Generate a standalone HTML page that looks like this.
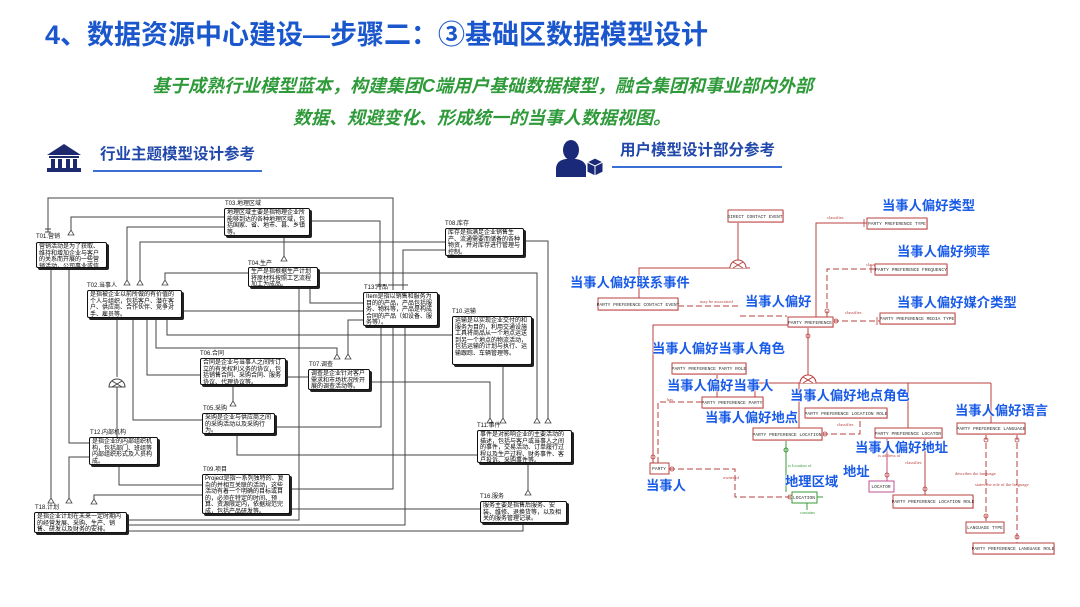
<!DOCTYPE html>
<html><head><meta charset="utf-8">
<style>
*{margin:0;padding:0;box-sizing:border-box}
body{width:1080px;height:607px;background:#fff;position:relative;overflow:hidden;font-family:"Liberation Sans","Noto Sans CJK SC",sans-serif}
.abs{position:absolute;white-space:nowrap}
.title{left:45px;top:19px;font-size:27px;line-height:32px;font-weight:bold;color:#1a56cc}
.sub{font-size:18px;line-height:20px;font-weight:bold;font-style:italic;color:#2f9a3a}
.hdr{font-size:15.5px;line-height:18px;font-weight:bold;color:#2148aa}
.bx{position:absolute;background:#fff;border:1px solid #111;box-shadow:2px 2px 0 #222;border-radius:2px;font-size:6px;line-height:6.6px;color:#000;padding:1px 2px;overflow:hidden;white-space:normal;word-break:break-all;font-family:"Liberation Sans","Noto Sans CJK SC",sans-serif}
.lb{position:absolute;font-size:6px;line-height:6px;color:#111;white-space:nowrap}
.bl{position:absolute;font-size:13.3px;line-height:14px;font-weight:bold;color:#1a5ce8;white-space:nowrap;text-shadow:0 0 2px #fff,0 0 2px #fff}
</style></head><body>

<div class="abs title">4、数据资源中心建设—步骤二：③基础区数据模型设计</div>
<div class="abs sub" style="left:152px;top:76px">基于成熟行业模型蓝本，构建集团C端用户基础数据模型，融合集团和事业部内外部</div>
<div class="abs sub" style="left:293px;top:108px">数据、规避变化、形成统一的当事人数据视图。</div>

<div class="abs hdr" style="left:100px;top:146px">行业主题模型设计参考</div>
<div class="abs hdr" style="left:620px;top:142px">用户模型设计部分参考</div>

<svg class="abs" style="left:0;top:0" width="1080" height="607" viewBox="0 0 1080 607">
<line x1="93" y1="171" x2="262" y2="171" stroke="#3a6fd8" stroke-width="2"/>
<line x1="612" y1="167" x2="782" y2="167" stroke="#3a6fd8" stroke-width="2"/>
<g fill="#1d2b6e">
<polygon points="64,144 81,155 47,155"/>
<rect x="49" y="156" width="30" height="2"/>
<rect x="51" y="159" width="4" height="9"/>
<rect x="58" y="159" width="4" height="9"/>
<rect x="66" y="159" width="4" height="9"/>
<rect x="73" y="159" width="4" height="9"/>
<rect x="47" y="168" width="34" height="4"/>
</g>
<g fill="#1a2a78">
<ellipse cx="571" cy="150" rx="8" ry="10"/>
<path d="M556,177 L556,168 Q557,160 566,159 L576,159 Q584,160 586,166 L586,177 Z"/>
<polygon points="595,158 603,162 603,172 595,176 587,172 587,162" fill="#1a2a78" stroke="#fff" stroke-width="1"/>
<polyline points="587,162 595,166 603,162" fill="none" stroke="#fff" stroke-width="1"/>
<line x1="595" y1="166" x2="595" y2="176" stroke="#fff" stroke-width="1"/>
</g>

<g fill="none" stroke="#444" stroke-width="1">
<polyline points="48,232 48,198 393,198 393,290"/>
<polyline points="224,217 71,217 71,234"/>
<polyline points="224,227 127,227 127,284"/>
<polyline points="140,284 140,242 445,242"/>
<polyline points="308,221 380,221 380,290"/>
<polyline points="445,250 403,250 403,290"/>
<polyline points="524,241 548,241 548,422"/>
<polyline points="318,273 537,273 537,422"/>
<polyline points="248,273 165,273 165,284"/>
<polyline points="310,287 310,303 363,303"/>
<polyline points="182,311 363,311"/>
<polyline points="348,358 348,320 363,320"/>
<polyline points="156,318 156,348 337,348 337,358"/>
<polyline points="167,318 167,335 452,335"/>
<polyline points="284,236 284,260"/>
<polyline points="51,268 51,502"/>
<polyline points="69,268 69,443 89,443"/>
<polyline points="117,318 117,377"/>
<polyline points="117,386 117,437"/>
<polyline points="133,318 133,420 202,420"/>
<polyline points="147,318 147,375 200,375"/>
<polyline points="299,287 299,520 127,520"/>
<polyline points="286,377 308,377"/>
<polyline points="233,385 233,405"/>
<polyline points="275,427 381,427 381,326"/>
<polyline points="237,434 237,455 477,455"/>
<polyline points="119,465 119,485 202,485"/>
<polyline points="202,495 94,495 94,503"/>
<polyline points="290,489 393,489 393,326"/>
<polyline points="290,509 480,509"/>
<polyline points="127,525 405,525 405,326"/>
<polyline points="370,382 490,382 490,422"/>
<polyline points="503,365 503,422"/>
<polyline points="528,463 528,494"/>
<polyline points="523,523 523,531 127,531"/>
<polyline points="89,457 69,457 69,502"/>
<path d="M109,387 A8,8 0 0 1 125,387 Z" fill="#fff"/>
<path d="M112,381 L122,387 M122,381 L112,387"/>
<path d="M45,229 L51,229 M45,232 L51,232 M388,285 L398,285 M398,285 L408,285 M375,285 L385,285"/>
</g>
<g fill="#fff" stroke="#444" stroke-width="0.8">
<polygon points="71,230 68,235 74,235"/>
<polygon points="127,280 124,285 130,285"/>
<polygon points="140,280 137,285 143,285"/>
<polygon points="165,280 162,285 168,285"/>
<polygon points="284,256 281,261 287,261"/>
<polygon points="548,418 545,423 551,423"/>
<polygon points="537,418 534,423 540,423"/>
<polygon points="490,418 487,423 493,423"/>
<polygon points="503,418 500,423 506,423"/>
<polygon points="528,490 525,495 531,495"/>
<polygon points="51,498 48,503 54,503"/>
<polygon points="69,498 66,503 72,503"/>
<polygon points="94,499 91,504 97,504"/>
<polygon points="233,401 230,406 236,406"/>
<polygon points="337,354 334,359 340,359"/>
<polygon points="348,354 345,359 351,359"/>
</g>

<g fill="none" stroke="#b8403f" stroke-width="1">
<polyline points="738,222 738,261"/>
<polyline points="639,298 639,268 750,268"/>
<path d="M730,268 A8,8 0 0 1 746,268" fill="#fff"/>
<path d="M733,262 L743,268 M743,262 L733,268"/>
<polyline points="788,325 653,325 653,463"/>
<polyline points="808,327 808,376"/>
<polyline points="755,383 991,383"/>
<path d="M800,383 A8,8 0 0 1 816,383" fill="#fff"/>
<path d="M803,377 L813,383 M813,377 L803,383"/>
<polyline points="755,383 755,397"/>
<polyline points="799,383 799,428"/>
<polyline points="908,383 908,428"/>
<polyline points="991,383 991,423"/>
<polyline points="717,374 717,397"/>
<polyline points="816,317 816,223 867,223"/>
<polyline points="887,438 887,481" stroke="#c05070"/>
<polyline points="925,438 925,495"/>
</g>
<g fill="none" stroke="#b8403f" stroke-width="1" stroke-dasharray="6,3">
<polyline points="678,306 740,306"/>
<polyline points="740,316 787,316"/>
<polyline points="702,402 658,402 658,463"/>
<polyline points="669,469 735,469 735,497 792,497"/>
<polyline points="822,434 860,434 860,418"/>
<polyline points="986,434 986,522"/>
<polyline points="1017,434 1017,543"/>
<polyline points="827,317 827,269 875,269"/>
<polyline points="833,321 880,321"/>
</g>
<g fill="none" stroke="#3a9a3a" stroke-width="1">
<polyline points="786,440 786,492"/>
<polyline points="807,503 807,510"/>
<polyline points="817,497 823,497"/>
<circle cx="786" cy="450" r="2"/>
</g>
<g fill="none" stroke="#b8403f" stroke-width="0.8">
<circle cx="653" cy="457" r="2"/><circle cx="808" cy="336" r="2"/><circle cx="827" cy="311" r="2"/>
<circle cx="705" cy="402" r="2"/><circle cx="672" cy="469" r="2"/><circle cx="790" cy="497" r="2"/>
<circle cx="825" cy="434" r="2"/><circle cx="986" cy="440" r="2"/><circle cx="1017" cy="440" r="2"/>
<circle cx="986" cy="516" r="2"/><circle cx="1017" cy="537" r="2"/><circle cx="925" cy="489" r="2"/>
<circle cx="887" cy="475" r="2"/><circle cx="836" cy="321" r="2"/>
<path d="M864,219 L864,227 M871,265 L871,273 M877,317 L877,325 M790,322 L790,328"/>
</g>
<g font-family="Liberation Serif, serif" font-size="4.5" fill="#b8403f">
<text x="700" y="303">may be associated</text>
<text x="827" y="219">classifies</text>
<text x="866" y="266">classi</text>
<text x="845" y="314">classifies</text>
<text x="667" y="401">has</text>
<text x="723" y="479">owner of</text>
<text x="837" y="426">classifies</text>
<text x="878" y="457">is address of</text>
<text x="905" y="464">classifies</text>
<text x="955" y="475">describes the language</text>
<text x="975" y="486">states the role of the language</text>
</g>
<g font-family="Liberation Serif, serif" font-size="4.5" fill="#3a9a3a">
<text x="788" y="467">is location of</text>
<text x="800" y="514">contains</text>
</g>
<g font-family="Liberation Mono, monospace" font-size="4.6" fill="#333" text-anchor="middle">
<g stroke="#b8403f" stroke-width="1">
<rect x="729" y="211" width="55" height="12" fill="#f3d8d8" stroke="none"/>
<rect x="728" y="210" width="55" height="12" fill="#fff"/>
<rect x="599" y="299" width="80" height="12" fill="#f3d8d8" stroke="none"/>
<rect x="598" y="298" width="80" height="12" fill="#fff"/>
<rect x="789" y="318" width="45" height="10" fill="#f3d8d8" stroke="none"/>
<rect x="788" y="317" width="45" height="10" fill="#fff"/>
<rect x="868" y="219" width="60" height="11" fill="#f3d8d8" stroke="none"/>
<rect x="867" y="218" width="60" height="11" fill="#fff"/>
<rect x="876" y="265" width="72" height="11" fill="#f3d8d8" stroke="none"/>
<rect x="875" y="264" width="72" height="11" fill="#fff"/>
<rect x="881" y="314" width="75" height="11" fill="#f3d8d8" stroke="none"/>
<rect x="880" y="313" width="75" height="11" fill="#fff"/>
<rect x="673" y="364" width="74" height="11" fill="#f3d8d8" stroke="none"/>
<rect x="672" y="363" width="74" height="11" fill="#fff"/>
<rect x="703" y="398" width="61" height="11" fill="#f3d8d8" stroke="none"/>
<rect x="702" y="397" width="61" height="11" fill="#fff"/>
<rect x="754" y="429" width="69" height="12" fill="#f3d8d8" stroke="none"/>
<rect x="753" y="428" width="69" height="12" fill="#fff"/>
<rect x="650" y="463" width="19" height="11" fill="#fff"/>
<rect x="806" y="409" width="82" height="10" fill="#f3d8d8" stroke="none"/>
<rect x="805" y="408" width="82" height="10" fill="#fff"/>
<rect x="876" y="429" width="67" height="10" fill="#f3d8d8" stroke="none"/>
<rect x="875" y="428" width="67" height="10" fill="#fff"/>
<rect x="869" y="481" width="25" height="11" fill="#fff" stroke="#c05090"/>
<rect x="894" y="496" width="80" height="13" fill="#f3d8d8" stroke="none"/>
<rect x="893" y="495" width="80" height="13" fill="#fff"/>
<rect x="958" y="424" width="68" height="11" fill="#f3d8d8" stroke="none"/>
<rect x="957" y="423" width="68" height="11" fill="#fff"/>
<rect x="966" y="522" width="38" height="11" fill="#fff"/>
<rect x="974" y="544" width="81" height="11" fill="#f3d8d8" stroke="none"/>
<rect x="973" y="543" width="81" height="11" fill="#fff"/>
<rect x="792" y="492" width="25" height="11" fill="#fff" stroke="#3a9a3a"/>
</g>
<text x="755" y="218">DIRECT CONTACT EVENT</text>
<text x="638" y="306">PARTY PREFERENCE CONTACT EVENT</text>
<text x="810" y="324">PARTY PREFERENCE</text>
<text x="897" y="225">PARTY PREFERENCE TYPE</text>
<text x="911" y="271">PARTY PREFERENCE FREQUENCY</text>
<text x="917" y="320">PARTY PREFERENCE MEDIA TYPE</text>
<text x="709" y="370">PARTY PREFERENCE PARTY ROLE</text>
<text x="732" y="404">PARTY PREFERENCE PARTY</text>
<text x="787" y="436">PARTY PREFERENCE LOCATION</text>
<text x="659" y="470">PARTY</text>
<text x="846" y="415">PARTY PREFERENCE LOCATION ROLE</text>
<text x="908" y="435">PARTY PREFERENCE LOCATOR</text>
<text x="881" y="488">LOCATOR</text>
<text x="933" y="503">PARTY PREFERENCE LOCATION ROLE</text>
<text x="991" y="430">PARTY PREFERENCE LANGUAGE</text>
<text x="985" y="529">LANGUAGE TYPE</text>
<text x="1013" y="550">PARTY PREFERENCE LANGUAGE ROLE</text>
<text x="804" y="499">LOCATION</text>
</g>
</svg>

<div class="lb" style="left:36px;top:234px">T01.营销</div>
<div class="bx" style="left:36px;top:242px;width:71px;height:26px">营销活动是为了获取、维持和增加企业与客户的关系而开展的一些营销活动，公司事业或信息宣传。</div>
<div class="lb" style="left:225px;top:201px">T03.地理区域</div>
<div class="bx" style="left:224px;top:208px;width:86px;height:28px">地理区域主要是指物理企业所能够到达的各种地理区域，包括国家、省、地市、县、乡镇等。</div>
<div class="lb" style="left:87px;top:283px">T02.当事人</div>
<div class="bx" style="left:87px;top:290px;width:95px;height:28px">是指被企业以前所做的有价值的个人与组织，包括客户、潜在客户、供应商、合作伙伴、竞争对手、雇员等。</div>
<div class="lb" style="left:248px;top:261px">T04.生产</div>
<div class="bx" style="left:248px;top:267px;width:70px;height:20px">生产是指根据生产计划将原材料按照工艺流程加工为成品。</div>
<div class="lb" style="left:445px;top:221px">T08.库存</div>
<div class="bx" style="left:445px;top:228px;width:79px;height:28px">库存是指满足企业销售生产、流通需要而储备的各种物资，并对库存进行管理与控制。</div>
<div class="lb" style="left:364px;top:285px">T13.产品</div>
<div class="bx" style="left:363px;top:292px;width:75px;height:34px">Item是指以销售和服务为目的的产品，产品包括服务、物料等，产品是构成合同的产品（如设备、服务等）。</div>
<div class="lb" style="left:452px;top:309px">T10.运输</div>
<div class="bx" style="left:452px;top:316px;width:80px;height:49px">运输是以实现企业交付的和服务为目的，利用交通设施工具将商品从一个地点运送到另一个地点的物流活动，包括运输的计划与执行、运输跟踪、车辆管理等。</div>
<div class="lb" style="left:200px;top:351px">T06.合同</div>
<div class="bx" style="left:200px;top:358px;width:86px;height:27px">合同是企业与当事人之间所订立的有关权利义务的协议，包括销售合同、采购合同、服务协议、代理协议等。</div>
<div class="lb" style="left:309px;top:362px">T07.调查</div>
<div class="bx" style="left:308px;top:369px;width:62px;height:21px">调查是企业针对客户需求和市场状况所开展的调查活动等。</div>
<div class="lb" style="left:203px;top:406px">T05.采购</div>
<div class="bx" style="left:202px;top:413px;width:73px;height:21px">采购是企业与供应商之间的采购活动以及采购行为。</div>
<div class="lb" style="left:90px;top:430px">T12.内部机构</div>
<div class="bx" style="left:89px;top:437px;width:69px;height:28px">是指企业的内部组织机构，包括部门、班组等内部组织形式及人员构成。</div>
<div class="lb" style="left:203px;top:467px">T09.项目</div>
<div class="bx" style="left:202px;top:474px;width:88px;height:40px">Project是指一系列独特的、复杂的并相互关联的活动，这些活动有着一个明确的目标或目的，必须在特定的时间、预算、资源限定内，依据规范完成，包括产品研发等。</div>
<div class="lb" style="left:35px;top:505px">T18.计划</div>
<div class="bx" style="left:34px;top:512px;width:93px;height:21px">是指企业计划在未来一定时期内的经营发展、采购、生产、销售、研发以及财务的安排。</div>
<div class="lb" style="left:477px;top:423px">T11.事件</div>
<div class="bx" style="left:477px;top:430px;width:95px;height:33px">事件是对影响企业的主要活动的描述，包括与客户或当事人之间的事件，交易活动、订单履行过程以及生产过程、财务事件、客户投诉、采购事件等。</div>
<div class="lb" style="left:480px;top:494px">T16.服务</div>
<div class="bx" style="left:480px;top:501px;width:87px;height:22px">服务主要是指售后服务、安装、维修、退换货等，以及相关的服务管理记录。</div>

<div class="bl" style="left:882px;top:199px">当事人偏好类型</div>
<div class="bl" style="left:897px;top:245px">当事人偏好频率</div>
<div class="bl" style="left:570px;top:276px">当事人偏好联系事件</div>
<div class="bl" style="left:745px;top:295px">当事人偏好</div>
<div class="bl" style="left:897px;top:296px">当事人偏好媒介类型</div>
<div class="bl" style="left:652px;top:342px">当事人偏好当事人角色</div>
<div class="bl" style="left:667px;top:379px">当事人偏好当事人</div>
<div class="bl" style="left:790px;top:389px">当事人偏好地点角色</div>
<div class="bl" style="left:955px;top:404px">当事人偏好语言</div>
<div class="bl" style="left:705px;top:411px">当事人偏好地点</div>
<div class="bl" style="left:855px;top:441px">当事人偏好地址</div>
<div class="bl" style="left:843px;top:465px">地址</div>
<div class="bl" style="left:785px;top:475px">地理区域</div>
<div class="bl" style="left:646px;top:479px">当事人</div>

</body></html>
